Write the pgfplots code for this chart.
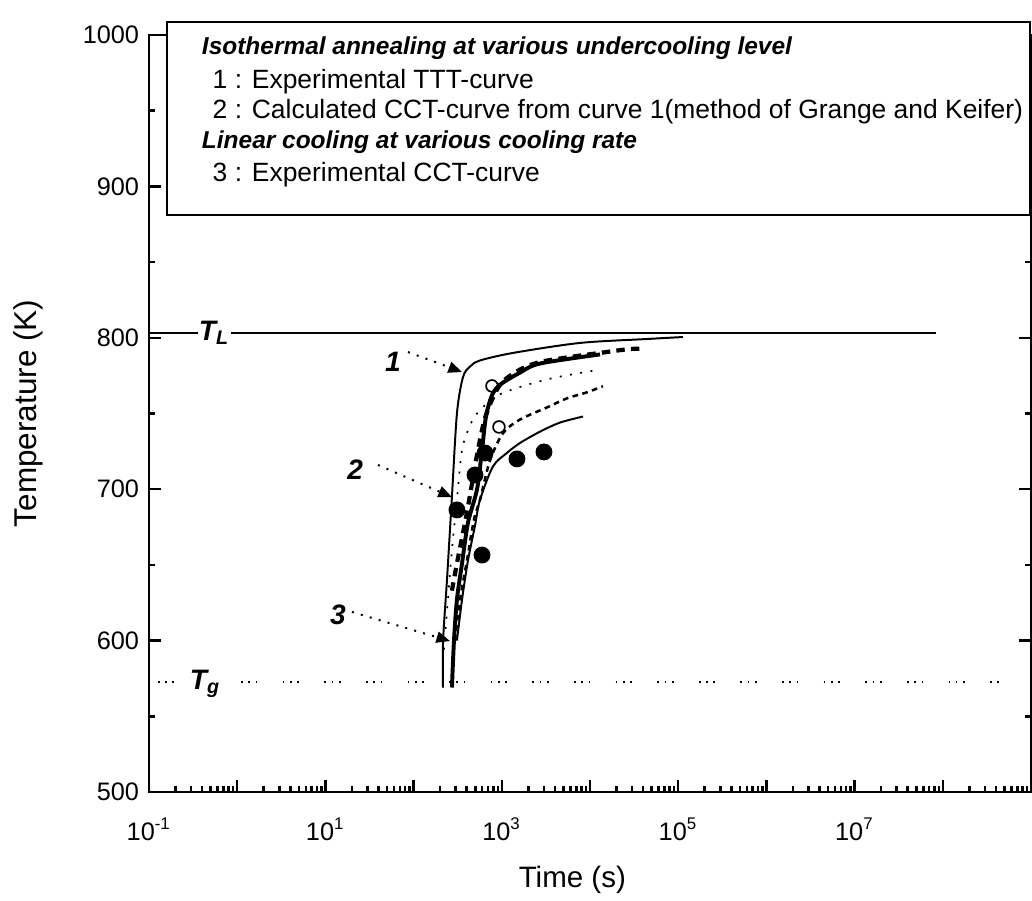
\documentclass[border=0pt]{standalone}
\usepackage{fontspec}
\setmainfont{Liberation Sans}
\usepackage{pgfplots}
\pgfplotsset{compat=1.18}
\usetikzlibrary{arrows.meta}

\newcommand{\legfont}{\fontsize{9.4}{11}\selectfont}
\newcommand{\headfont}{\bfseries\itshape\fontsize{8.7}{10}\selectfont}
\newcommand{\numfont}{\bfseries\itshape\fontsize{10}{12}\selectfont}

\begin{document}
\begin{tikzpicture}
\begin{axis}[
    name=ax,
    xmode=log,
    scale only axis,
    width=11.025cm, height=9.4625cm,
    xmin=1e-1, xmax=1e9,
    ymin=500, ymax=1000,
    xtick={1e-1,1e0,1e1,1e2,1e3,1e4,1e5,1e6,1e7,1e8,1e9},
    xticklabels={10\textsuperscript{-1},,10\textsuperscript{1},,10\textsuperscript{3},,10\textsuperscript{5},,10\textsuperscript{7},,},
    minor xtick={0.2,0.3,0.4,0.5,0.6,0.7,0.8,0.9,
        2,3,4,5,6,7,8,9, 20,30,40,50,60,70,80,90,
        200,300,400,500,600,700,800,900,
        2e3,3e3,4e3,5e3,6e3,7e3,8e3,9e3, 2e4,3e4,4e4,5e4,6e4,7e4,8e4,9e4,
        2e5,3e5,4e5,5e5,6e5,7e5,8e5,9e5, 2e6,3e6,4e6,5e6,6e6,7e6,8e6,9e6,
        2e7,3e7,4e7,5e7,6e7,7e7,8e7,9e7, 2e8,3e8,4e8,5e8,6e8,7e8,8e8,9e8},
    ytick={500,600,700,800,900,1000},
    minor ytick={550,650,750,850,950},
    axis line style={line width=1pt},
    tick align=inside,
    major tick length=0.15cm, minor tick length=0.08cm,
    every tick/.style={black, line width=0.9pt},
    clip=false,
    /pgf/number format/assume math mode=true,
    /pgf/number format/1000 sep={},
    ticklabel style={font=\fontsize{9}{10}\selectfont},
    xticklabel style={yshift=-0.2cm},
    xlabel={Time (s)},
    ylabel={Temperature (K)},
    xlabel style={font=\fontsize{10.5}{12}\selectfont, at={(axis description cs:0.48,-0.116)}, anchor=center},
    ylabel style={font=\fontsize{11.2}{13}\selectfont, at={(axis description cs:-0.137,0.5)}, anchor=center},
]

% liquidus and glass transition lines
\addplot[black, line width=0.6pt] coordinates {(0.1,803.2) (8.4e7,803.2)};
\addplot[black, line width=0.6pt, dash pattern=on 0.6pt off 2pt on 0.6pt off 2pt on 0.6pt off 9pt]
    coordinates {(0.126,572.7) (4.5e8,572.7)};

% 1 : experimental TTT-curve
\addplot[black, line width=0.7pt, smooth, tension=0.5] coordinates {
    (215,569) (216,600) (239,640) (272,695) (310,750) (363,774) (436,781)
    (566,785) (1340,790) (7710,796.6) (44300,799.2) (113000,800.5)};
% 2 : calculated CCT-curve
\addplot[black, line width=0.6pt, dash pattern=on 0.7pt off 3pt, smooth, tension=0.5] coordinates {
    (221,594) (245,627) (272,660) (310,693) (354,726) (436,742) (524,750)
    (837,761) (1607,767.5) (3800,773.4) (12000,778.7)};
% 3 : experimental CCT-curve
\addplot[black, line width=1.4pt, smooth, tension=0.5] coordinates {
    (272,569) (287,600) (310,627) (354,651) (414,678) (524,700) (597,726)
    (662,748) (774,762) (955,769) (1607,777) (2710,783) (12970,789)};
\addplot[black, line width=1.5pt, dash pattern=on 3pt off 2.2pt, smooth, tension=0.5] coordinates {
    (272,633) (310,651) (383,678) (436,696) (537,726) (662,749) (955,769)
    (1607,779) (2710,784) (5930,787.3) (12970,790) (28400,792.6) (42100,792.6)};
\addplot[black, line width=0.9pt, dash pattern=on 2pt off 1.6pt, smooth, tension=0.5] coordinates {
    (294,600) (336,627) (403,653) (484,680) (566,693) (735,719) (1032,737)
    (1607,746) (3250,754) (5480,760) (9250,764) (14030,768)};
\addplot[black, line width=0.7pt, smooth, tension=0.5] coordinates {
    (310,600) (354,627) (414,653) (497,676) (566,693) (794,715) (1146,724)
    (1607,730.5) (2710,738) (4570,744) (8340,748)};

% measured points
\addplot[only marks, mark=*, mark size=2.8pt, black] coordinates {
    (310,686.3) (497,709.4) (646,723.9) (597,656.5) (1486,720) (3006,724.6)};
\addplot[only marks, mark=o, mark size=2.1pt, black, mark options={line width=0.6pt, fill=white}] coordinates {
    (774,768.2) (929,741.1)};

% labels of the curves
\node[fill=white, inner sep=0.5pt, anchor=base west, font=\bfseries\itshape\fontsize{10}{11}\selectfont]
    at (axis cs:0.35,798.5) {T\textsubscript{L}};
\node[fill=white, inner sep=0.5pt, anchor=base west, font=\bfseries\itshape\fontsize{10}{11}\selectfont]
    at (axis cs:0.277,568) {T\textsubscript{g}};
\node[font=\numfont] at (axis cs:58.4,784) {1};
\node[font=\numfont] at (axis cs:21.7,712.7) {2};
\node[font=\numfont] at (axis cs:13.9,616.9) {3};
\draw[black, line width=0.7pt, dash pattern=on 0.7pt off 2.6pt, -{Triangle[length=0.17cm,width=0.14cm]}]
    (axis cs:86.5,790.6) -- (axis cs:354,777.4);
\draw[black, line width=0.7pt, dash pattern=on 0.7pt off 2.6pt, -{Triangle[length=0.17cm,width=0.14cm]}]
    (axis cs:39.5,716) -- (axis cs:272,694.8);
\draw[black, line width=0.7pt, dash pattern=on 0.7pt off 2.6pt, -{Triangle[length=0.17cm,width=0.14cm]}]
    (axis cs:20,618.9) -- (axis cs:259,599.7);

% legend box
\draw[black, line width=0.8pt, fill=white] (rel axis cs:0.0204,1.0172) rectangle (rel axis cs:0.999,0.7622);
\node[anchor=west, font=\headfont] at (rel axis cs:0.0488,0.9828) {Isothermal annealing at various undercooling level};
\node[anchor=west, font=\legfont] at (rel axis cs:0.061,0.9379) {1 : Experimental TTT-curve};
\node[anchor=west, font=\legfont] at (rel axis cs:0.061,0.8983) {2 : Calculated CCT-curve from curve 1(method of Grange and Keifer)};
\node[anchor=west, font=\headfont] at (rel axis cs:0.0488,0.8587) {Linear cooling at various cooling rate};
\node[anchor=west, font=\legfont] at (rel axis cs:0.061,0.8151) {3 : Experimental CCT-curve};
\end{axis}
\pgfresetboundingbox
\path[use as bounding box] ([xshift=-1.8625cm,yshift=-1.3625cm]ax.south west)
    rectangle ([xshift=0.0125cm,yshift=0.4375cm]ax.north east);
\end{tikzpicture}
\end{document}
